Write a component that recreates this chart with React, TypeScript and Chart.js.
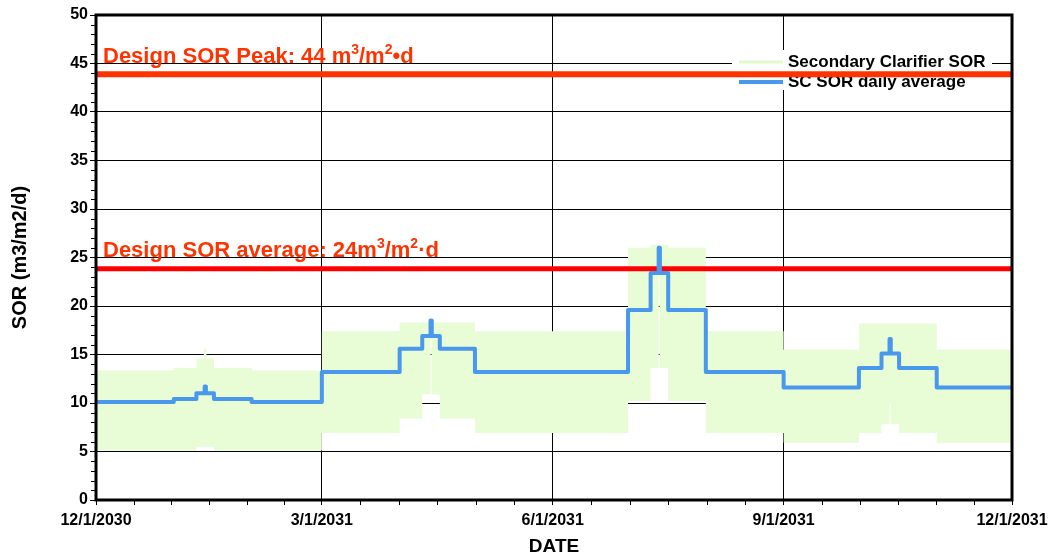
import React, { useEffect, useRef } from 'react';
import { Chart, registerables } from 'chart.js';

Chart.register(...registerables);

const FONT = '"Liberation Sans", Arial, Helvetica, sans-serif';

// x axis: days since 12/1/2030
const tickDays = [0, 90, 182, 274, 365];
const tickLabels = ['12/1/2030', '3/1/2031', '6/1/2031', '9/1/2031', '12/1/2031'];

// SC SOR daily average (value holds from this day until the next)
const avgDays = [0, 31, 40, 43.3, 43.8, 47, 62, 90, 121, 130, 133.3, 133.8, 137, 151, 212, 221, 224.2, 224.7, 228, 243, 274, 304, 313, 316.2, 316.7, 320, 335, 365];
const avgValues = [10.1, 10.4, 11.0, 11.7, 11.0, 10.4, 10.1, 13.2, 15.6, 16.9, 18.5, 16.9, 15.6, 13.2, 19.6, 23.4, 26.0, 23.4, 19.6, 13.2, 11.6, 13.6, 15.1, 16.6, 15.1, 13.6, 11.6, 11.6];

// Secondary Clarifier SOR range (band)
const bandDays = [0, 31, 40, 43, 44, 47, 62, 90, 121, 130, 133.3, 133.7, 137, 151, 212, 221, 224.2, 224.6, 228, 243, 274, 304, 313, 316.2, 316.6, 320, 335, 365];
const bandMax = [13.35, 13.6, 14.6, 15.6, 14.6, 13.6, 13.35, 17.4, 18.3, 18.3, 18.3, 18.3, 18.3, 17.4, 26.0, 26.3, 26.3, 26.3, 26.0, 17.4, 15.5, 18.2, 18.2, 18.2, 18.2, 18.2, 15.5, 15.5];
const bandMin = [5.1, 5.1, 5.5, 5.5, 5.5, 5.1, 5.1, 6.9, 8.4, 10.9, 16.5, 10.9, 8.4, 6.9, 10.2, 13.6, 23.0, 13.6, 10.2, 6.9, 5.9, 6.9, 7.8, 9.9, 7.8, 6.9, 5.9, 5.9];

const designPeak = 43.9;
const designAvg = 23.85;
const lineSpan = [0, 365];

const seriesNames = ['Secondary Clarifier SOR', 'SC SOR daily average'];
const peakLabel = [
  { t: 'Design SOR Peak: 44 m' },
  { t: '3', sup: true },
  { t: '/m' },
  { t: '2', sup: true },
  { t: '\u2022d' },
];
const avgLabel = [
  { t: 'Design SOR average: 24m' },
  { t: '3', sup: true },
  { t: '/m' },
  { t: '2', sup: true },
  { t: '\u00B7d' },
];

const GREEN = 'rgb(232,252,214)';
const GREEN_LEG = 'rgb(225,250,205)';
const BLUE = '#4A98EC';
const ORANGE_RED = '#FF3300';
const RED = '#FF0000';

const pts = (xs: number[], ys: number[]) => xs.map((x, i) => ({ x, y: ys[i] }));

function drawRich(ctx: CanvasRenderingContext2D, x: number, y: number, parts: { t: string; sup?: boolean }[], size: number) {
  for (const p of parts) {
    const fs = p.sup ? Math.round(size * 0.62) : size;
    ctx.font = `bold ${fs}px ${FONT}`;
    ctx.fillText(p.t, x, p.sup ? y - size * 0.4 : y);
    x += ctx.measureText(p.t).width;
  }
}

const customPlugin = {
  id: 'customDecor',
  beforeDatasetsDraw(chart: any) {
    const { ctx, chartArea } = chart;
    const right = chartArea.right - 20;
    const left = right - 260;
    const top = chartArea.top + 35;
    ctx.save();
    ctx.fillStyle = '#ffffff';
    ctx.fillRect(left, top, 260, 40);
    const rows = [
      { name: seriesNames[0], color: GREEN_LEG, w: 3, y: top + 12 },
      { name: seriesNames[1], color: BLUE, w: 4, y: top + 32 },
    ];
    ctx.textBaseline = 'middle';
    ctx.textAlign = 'left';
    for (const r of rows) {
      ctx.strokeStyle = r.color;
      ctx.lineWidth = r.w;
      ctx.beginPath();
      ctx.moveTo(left + 7, r.y);
      ctx.lineTo(left + 51, r.y);
      ctx.stroke();
      ctx.fillStyle = '#000';
      ctx.font = `bold 17px ${FONT}`;
      ctx.fillText(r.name, left + 56, r.y);
    }
    ctx.restore();
  },
  afterDatasetsDraw(chart: any) {
    const { ctx, chartArea, scales } = chart;
    const ys = scales.y;
    const xs = scales.x;
    ctx.save();
    // annotation texts
    ctx.fillStyle = ORANGE_RED;
    ctx.textBaseline = 'alphabetic';
    ctx.textAlign = 'left';
    drawRich(ctx, chartArea.left + 7, ys.getPixelForValue(designPeak) - 11.5, peakLabel, 22);
    drawRich(ctx, chartArea.left + 7, ys.getPixelForValue(designAvg) - 12, avgLabel, 22);
    // frame
    ctx.strokeStyle = '#000';
    ctx.lineWidth = 3;
    ctx.strokeRect(chartArea.left, chartArea.top, chartArea.right - chartArea.left, chartArea.bottom - chartArea.top);
    // minor ticks
    ctx.lineWidth = 1;
    ctx.beginPath();
    for (let v = 1; v < 50; v++) {
      if (v % 5 === 0) continue;
      const py = Math.round(ys.getPixelForValue(v)) + 0.5;
      ctx.moveTo(chartArea.left - 5, py);
      ctx.lineTo(chartArea.left, py);
    }
    for (let i = 0; i < tickDays.length - 1; i++) {
      const a = tickDays[i];
      const b = tickDays[i + 1];
      for (let k = 1; k < 6; k++) {
        const px = Math.round(xs.getPixelForValue(a + ((b - a) * k) / 6)) + 0.5;
        ctx.moveTo(px, chartArea.bottom);
        ctx.lineTo(px, chartArea.bottom + 5);
      }
    }
    ctx.stroke();
    ctx.restore();
  },
};

export default function App() {
  const ref = useRef<HTMLCanvasElement | null>(null);
  useEffect(() => {
    if (!ref.current) return;
    Chart.defaults.color = '#000';
    const chart = new Chart(ref.current, {
      type: 'line',
      data: {
        datasets: [
          {
            label: 'SOR min',
            data: pts(bandDays, bandMin),
            stepped: true,
            borderColor: 'rgba(0,0,0,0)',
            borderWidth: 1,
            pointRadius: 0,
            fill: false,
            order: 4,
          },
          {
            label: seriesNames[0],
            data: pts(bandDays, bandMax),
            stepped: true,
            borderColor: 'rgba(0,0,0,0)',
            borderWidth: 1,
            backgroundColor: GREEN,
            pointRadius: 0,
            fill: '-1',
            order: 3,
          },
          {
            label: seriesNames[1],
            data: pts(avgDays, avgValues),
            stepped: true,
            borderColor: BLUE,
            borderWidth: 4,
            borderJoinStyle: 'round',
            borderCapStyle: 'round',
            pointRadius: 0,
            fill: false,
            order: 1,
          },
          {
            label: 'Design SOR Peak',
            data: pts(lineSpan, [designPeak, designPeak]),
            borderColor: ORANGE_RED,
            borderWidth: 6,
            pointRadius: 0,
            fill: false,
            order: 2,
          },
          {
            label: 'Design SOR average',
            data: pts(lineSpan, [designAvg, designAvg]),
            borderColor: RED,
            borderWidth: 5,
            pointRadius: 0,
            fill: false,
            order: 2,
          },
        ],
      },
      options: {
        responsive: false,
        animation: false,
        events: [],
        layout: { padding: { left: 0, top: 15, right: 36, bottom: 0 } },
        plugins: {
          legend: { display: false },
          tooltip: { enabled: false },
        },
        scales: {
          x: {
            type: 'linear',
            min: 0,
            max: 365,
            afterBuildTicks: (scale: any) => {
              scale.ticks = tickDays.map((v) => ({ value: v }));
            },
            afterFit: (scale: any) => {
              scale.height = 60;
              scale.paddingLeft = 0;
              scale.paddingRight = 0;
            },
            ticks: {
              autoSkip: false,
              maxRotation: 0,
              padding: 6,
              font: { family: FONT, size: 16, weight: 'bold' },
              color: '#000',
              callback: (value: any) => {
                const i = tickDays.indexOf(Number(value));
                return i >= 0 ? tickLabels[i] : '';
              },
            },
            grid: { color: '#000', lineWidth: 1, drawTicks: true, tickLength: 5 },
            border: { display: false },
            title: {
              display: true,
              text: 'DATE',
              font: { family: FONT, size: 19, weight: 'bold' },
              color: '#000',
              padding: { top: 0, bottom: 2 },
            },
          },
          y: {
            type: 'linear',
            min: 0,
            max: 50,
            afterFit: (scale: any) => {
              scale.width = 96;
              scale.paddingTop = 0;
              scale.paddingBottom = 0;
            },
            ticks: {
              stepSize: 5,
              padding: 2,
              font: { family: FONT, size: 16, weight: 'bold' },
              color: '#000',
            },
            grid: { color: '#000', lineWidth: 1, drawTicks: true, tickLength: 6 },
            border: { display: false },
            title: {
              display: true,
              text: 'SOR (m3/m2/d)',
              font: { family: FONT, size: 20, weight: 'bold' },
              color: '#000',
              padding: { top: 8, bottom: 0 },
            },
          },
        },
      },
      plugins: [customPlugin],
    } as any);
    return () => chart.destroy();
  }, []);
  return (
    <div style={{ position: 'absolute', left: 0, top: 0, width: 1048, height: 560, background: '#fff' }}>
      <canvas ref={ref} width={1048} height={560} />
    </div>
  );
}
